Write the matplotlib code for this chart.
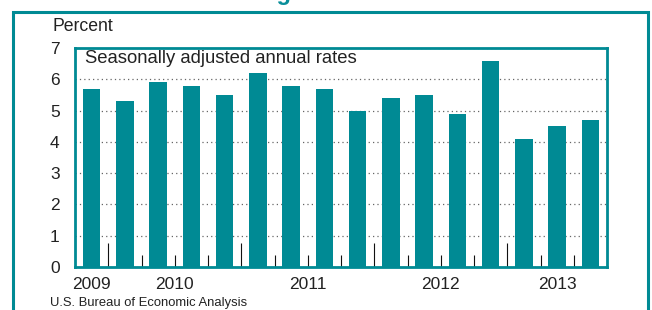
import matplotlib.pyplot as plt
import matplotlib.patches as patches
import matplotlib.transforms as mtransforms

teal = '#008a94'

# quarterly personal saving rate, 2009Q4 - 2013Q3
quarters = ['2009Q4',
            '2010Q1', '2010Q2', '2010Q3', '2010Q4',
            '2011Q1', '2011Q2', '2011Q3', '2011Q4',
            '2012Q1', '2012Q2', '2012Q3', '2012Q4',
            '2013Q1', '2013Q2', '2013Q3']
rates = [5.7,
         5.3, 5.9, 5.8, 5.5,
         6.2, 5.8, 5.7, 5.0,
         5.4, 5.5, 4.9, 6.6,
         4.1, 4.5, 4.7]
years = ['2009', '2010', '2011', '2012', '2013']

plt.rcParams['font.family'] = ['Liberation Sans', 'DejaVu Sans']

fig = plt.figure(figsize=(6.52, 3.10), dpi=100)
ax = fig.add_axes([75 / 652, 43 / 310, 532 / 652, 219 / 310])

x = list(range(len(quarters)))
ax.bar(x, rates, width=0.52, color=teal, zorder=2)

ax.set_xlim(-0.5, len(quarters) - 0.5)
ax.set_ylim(0, 7)
ax.set_yticks(range(0, 8))
ax.tick_params(axis='y', length=0, pad=11, labelsize=12.5, colors='#222222')
ax.set_axisbelow(True)
ax.yaxis.grid(True, linestyle=(0, (1, 2.5)), color='#666666', linewidth=0.9)

# tick marks at quarter boundaries, longer ones between years
year_of = [q[:4] for q in quarters]
bounds_major = [i + 0.5 for i in range(len(quarters) - 1) if year_of[i] != year_of[i + 1]]
bounds_minor = [i + 0.5 for i in range(len(quarters) - 1) if year_of[i] == year_of[i + 1]]
ax.set_xticks(bounds_major)
ax.set_xticks(bounds_minor, minor=True)
ax.tick_params(axis='x', which='major', direction='in', length=17, width=0.8,
               color='#111111', labelbottom=False)
ax.tick_params(axis='x', which='minor', direction='in', length=8.5, width=0.8,
               color='#111111', labelbottom=False)

# year labels centred under their quarters
trans = mtransforms.blended_transform_factory(ax.transData, ax.transAxes)
for yr in years:
    idx = [i for i, y in enumerate(year_of) if y == yr]
    xc = (idx[0] + idx[-1]) / 2
    ax.text(xc, -0.045, yr, transform=trans, ha='center', va='top',
            fontsize=12.5, color='#222222')

for s in ax.spines.values():
    s.set_color(teal)
    s.set_linewidth(2)

ax.text(0.019, 0.93, 'Seasonally adjusted annual rates', transform=ax.transAxes,
        fontsize=13.3, color='#222222', va='baseline', ha='left')

fig.text(52 / 652, 1 - 31 / 310, 'Percent', fontsize=12.7, color='#222222',
         va='baseline', ha='left')
fig.text(50 / 652, 1 - 306 / 310, 'U.S. Bureau of Economic Analysis', fontsize=9.4,
         color='#222222', va='baseline', ha='left',
         family=['Liberation Sans Narrow', 'Liberation Sans'])

# title cut off by the top of the image
fig.text(12 / 652, 1 - 0.3 / 310, 'Chart 4. Personal Saving Rate', fontsize=17,
         fontweight='bold', color='#0a8f9a', va='baseline', ha='left')

# outer panel border
box = patches.Rectangle((13 / 652, -0.1), 635 / 652, 1.1 - 11.5 / 310,
                        transform=fig.transFigure, fill=False,
                        edgecolor=teal, linewidth=2.2, clip_on=False)
fig.patches.append(box)

fig.savefig('out.png', dpi=100)
